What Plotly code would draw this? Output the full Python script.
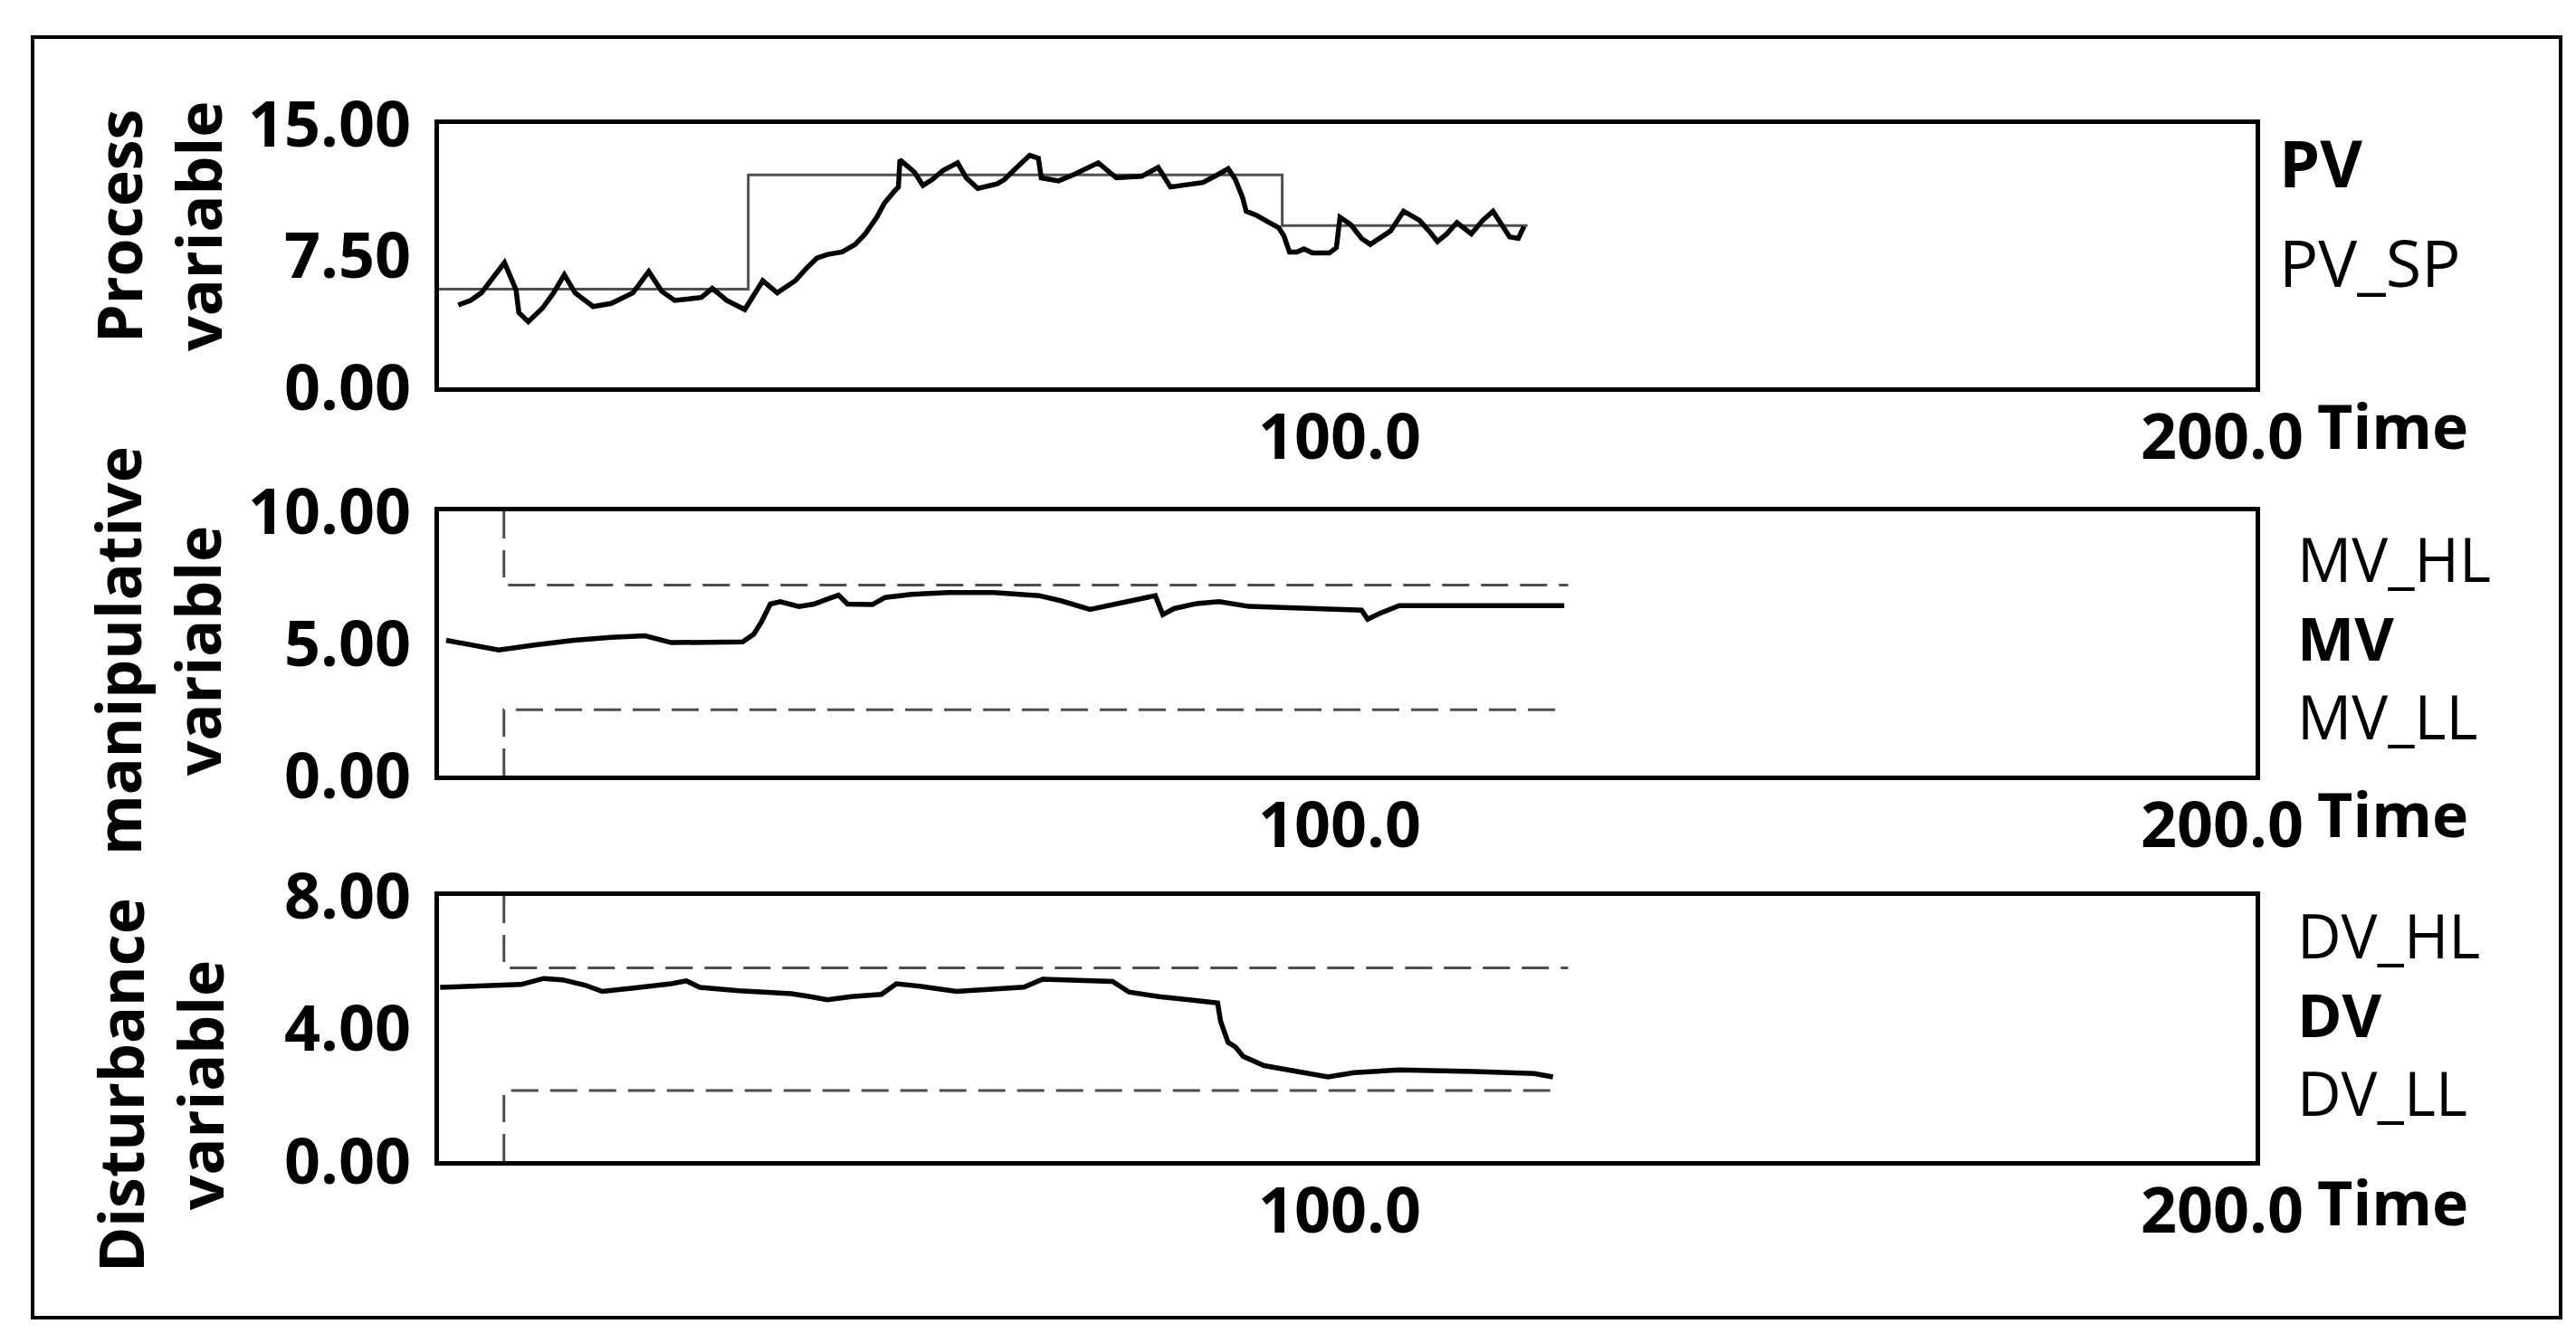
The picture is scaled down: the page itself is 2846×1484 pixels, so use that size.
import plotly.graph_objects as go

# ---------------- data ----------------
pv_t = [0.14, 1.52, 2.75, 3.98, 5.37, 6.68, 7.00, 8.07, 9.70, 10.93, 12.15, 13.38, 15.42, 17.47,
        19.92, 21.72, 23.19, 24.66, 27.69, 28.92, 30.55, 32.60, 33.99, 34.64, 36.28, 38.32, 39.55,
        40.77, 42.00, 43.63, 45.11, 46.25, 47.56, 48.38, 49.52, 50.01, 50.18, 51.81, 52.79, 53.85,
        55.08, 56.72, 57.70, 59.00, 61.21, 62.03, 63.26, 64.89, 65.87, 66.20, 68.16, 69.80, 72.66,
        74.71, 77.57, 79.45, 80.84, 84.51, 86.15, 87.38, 88.19, 89.01, 89.42, 90.65, 91.88, 93.10,
        93.67, 94.33, 95.15, 95.96, 96.94, 98.83, 99.64, 100.05, 101.28, 102.50, 103.48, 105.78,
        107.25, 109.05, 110.27, 111.09, 112.15, 113.30, 114.93, 116.24, 117.39, 118.45, 119.27,
        120.25, 120.90]
pv_v = [4.69, 4.95, 5.38, 6.15, 7.10, 5.55, 4.26, 3.74, 4.52, 5.38, 6.41, 5.38, 4.60, 4.78,
        5.38, 6.59, 5.47, 4.95, 5.12, 5.64, 4.95, 4.43, 5.55, 6.07, 5.38, 6.07, 6.76,
        7.36, 7.57, 7.71, 8.14, 8.74, 9.69, 10.46, 11.15, 11.41, 12.96, 12.27, 11.50, 11.84,
        12.36, 12.79, 11.93, 11.33, 11.59, 11.84, 12.45, 13.22, 13.05, 11.93, 11.76, 12.10, 12.79,
        11.93, 12.02, 12.53, 11.41, 11.67, 12.10, 12.45, 11.84, 10.81, 10.03, 9.78, 9.43, 9.09,
        8.65, 7.71, 7.71, 7.88, 7.65, 7.65, 7.96, 9.69, 9.26, 8.48, 8.14, 8.91,
        10.03, 9.52, 8.83, 8.31, 8.74, 9.38, 8.74, 9.52, 10.03, 9.26, 8.57,
        8.48, 9.17]

pv_sp_t = [-2.05, 33.0, 33.0, 93.5, 93.5, 121.3]
pv_sp_v = [5.59, 5.59, 12.10, 12.10, 9.21, 9.21]

mv_t = [-1.24, 1.31, 4.71, 8.96, 13.22, 17.47, 21.30, 24.27, 28.52, 32.35, 33.62, 34.48, 35.50,
        36.60, 38.73, 40.43, 42.13, 43.23, 44.25, 47.06, 48.51, 51.48, 55.73, 60.84, 65.94, 68.49,
        71.72, 75.29, 79.12, 79.97, 81.24, 83.80, 86.35, 89.74, 94.85, 100.80, 102.50, 103.18,
        104.63, 106.75, 125.46]
mv_v = [5.12, 4.95, 4.75, 4.95, 5.12, 5.23, 5.29, 5.03, 5.03, 5.06, 5.35, 5.81, 6.49,
        6.58, 6.40, 6.49, 6.70, 6.83, 6.49, 6.47, 6.74, 6.86, 6.93, 6.93, 6.81, 6.61,
        6.29, 6.55, 6.81, 6.09, 6.32, 6.51, 6.58, 6.40, 6.35, 6.32, 6.26, 5.92,
        6.15, 6.43, 6.43]

mv_hl_t = [5.31, 5.31, 125.9]
mv_hl_v = [10.0, 7.21, 7.21]
mv_ll_t = [5.31, 5.31, 124.6]
mv_ll_v = [0.0, 2.49, 2.49]

dv_t = [-1.92, 3.01, 7.26, 9.81, 11.94, 14.49, 16.45, 20.02, 24.27, 25.97, 27.50, 31.92, 37.88,
        40.00, 41.96, 44.68, 48.08, 49.78, 52.33, 56.58, 60.84, 64.24, 66.36, 69.34, 74.27, 76.14,
        79.54, 82.94, 86.18, 86.52, 87.37, 88.22, 89.07, 91.45, 95.70, 98.68, 101.65, 106.75,
        115.25, 122.06, 124.18]
dv_v = [5.24, 5.28, 5.33, 5.51, 5.47, 5.31, 5.12, 5.22, 5.35, 5.44, 5.24, 5.14, 5.05,
        4.96, 4.87, 4.96, 5.03, 5.35, 5.28, 5.12, 5.19, 5.25, 5.49, 5.47, 5.42, 5.10,
        4.96, 4.87, 4.77, 4.22, 3.58, 3.44, 3.16, 2.88, 2.67, 2.54, 2.67, 2.75,
        2.70, 2.64, 2.54]

dv_hl_t = [5.31, 5.31, 125.9]
dv_hl_v = [8.0, 5.83, 5.83]
dv_ll_t = [5.31, 5.31, 124.6]
dv_ll_v = [0.0, 2.13, 2.13]

x_range = [-2.05, 203.8]
x_ticks = [100, 200]
x_ticktext = ["100.0", "200.0"]

y_ranges = [[0, 15], [0, 10], [0, 8]]
y_ticks = [[0, 7.5, 15], [0, 5, 10], [0, 4, 8]]
y_ticktext = [["0.00", "7.50", "15.00"], ["0.00", "5.00", "10.00"], ["0.00", "4.00", "8.00"]]

axis_titles = ["Process<br>variable", "manipulative<br>variable", "Disturbance<br>variable"]
x_title = "Time"
pv_labels = [("PV", True), ("PV_SP", False)]
mv_labels = [("MV_HL", False), ("MV", True), ("MV_LL", False)]
dv_labels = [("DV_HL", False), ("DV", True), ("DV_LL", False)]

# ---------------- layout geometry ----------------
W, H = 2846, 1484
FONT = "Open Sans"
x_dom = [477 / W, 2484 / W]
panels_px = [(129, 420), (557, 849), (982, 1275)]
y_doms = [[1 - b / H, 1 - t / H] for (t, b) in panels_px]

fig = go.Figure()

main_line = dict(color="black", width=5.5)
sp_line = dict(color="#505050", width=3)
lim_line = dict(color="#4d4d4d", width=3, dash="30px,13px")

# panel 1
fig.add_trace(go.Scatter(x=pv_sp_t, y=pv_sp_v, mode="lines", line=sp_line, xaxis="x", yaxis="y"))
fig.add_trace(go.Scatter(x=pv_t, y=pv_v, mode="lines", line=main_line, xaxis="x", yaxis="y"))
# panel 2
fig.add_trace(go.Scatter(x=mv_hl_t, y=mv_hl_v, mode="lines", line=lim_line, xaxis="x2", yaxis="y2"))
fig.add_trace(go.Scatter(x=mv_ll_t, y=mv_ll_v, mode="lines", line=lim_line, xaxis="x2", yaxis="y2"))
fig.add_trace(go.Scatter(x=mv_t, y=mv_v, mode="lines", line=main_line, xaxis="x2", yaxis="y2"))
# panel 3
fig.add_trace(go.Scatter(x=dv_hl_t, y=dv_hl_v, mode="lines", line=lim_line, xaxis="x3", yaxis="y3"))
fig.add_trace(go.Scatter(x=dv_ll_t, y=dv_ll_v, mode="lines", line=lim_line, xaxis="x3", yaxis="y3"))
fig.add_trace(go.Scatter(x=dv_t, y=dv_v, mode="lines", line=main_line, xaxis="x3", yaxis="y3"))

tick_font = dict(family=FONT, size=70, color="black", weight="bold")
layout = dict(
    width=W, height=H, autosize=False,
    margin=dict(l=0, r=0, t=0, b=0, pad=0),
    paper_bgcolor="white", plot_bgcolor="white",
    showlegend=False,
    font=dict(family=FONT, color="black"),
)
for i in range(3):
    sx = "" if i == 0 else str(i + 1)
    layout["xaxis" + sx] = dict(
        domain=x_dom, anchor="y" + sx, range=x_range, automargin=False,
        tickmode="array", tickvals=x_ticks, ticktext=x_ticktext,
        tickfont=tick_font, ticks="", showgrid=False, zeroline=False,
        showline=True, mirror=True, linewidth=5, linecolor="black",
        ticklabelstandoff=-10,
    )
    layout["yaxis" + sx] = dict(
        domain=y_doms[i], anchor="x" + sx, range=y_ranges[i], automargin=False,
        tickmode="array", tickvals=y_ticks[i], ticktext=y_ticktext[i],
        tickfont=tick_font, ticks="", showgrid=False, zeroline=False,
        showline=True, mirror=True, linewidth=5, linecolor="black",
        ticklabelstandoff=12,
    )

annotations = []
title_pos = [(166, 242), (165, 711), (168, 1191)]
for i, txt in enumerate(axis_titles):
    cx, cy = title_pos[i]
    annotations.append(dict(
        text=txt, xref="paper", yref="paper", x=cx / W, y=1 - cy / H,
        xanchor="center", yanchor="middle", textangle=-90, showarrow=False,
        font=dict(family=FONT, size=68, color="black", weight="bold")))

time_y = [461, 890, 1319]
for ty in time_y:
    annotations.append(dict(
        text=x_title, xref="paper", yref="paper", x=2550 / W, y=1 - ty / H,
        xanchor="left", yanchor="middle", showarrow=False,
        font=dict(family=FONT, size=68, color="black", weight="bold")))


def fmt(label):
    txt, bold = label
    return "<b>%s</b>" % txt if bold else txt


# PV panel labels (widely spaced, separate texts)
for label, ly in zip(pv_labels, [171, 281]):
    annotations.append(dict(
        text=fmt(label), xref="paper", yref="paper", x=2508 / W, y=1 - ly / H,
        xanchor="left", yanchor="middle", showarrow=False,
        font=dict(family=FONT, size=72, color="black")))

# MV / DV labels as stacked blocks
for labs, cy in [(mv_labels, 696), (dv_labels, 1112)]:
    annotations.append(dict(
        text="<br>".join(fmt(l) for l in labs), xref="paper", yref="paper",
        x=2528 / W, y=1 - cy / H, xanchor="left", yanchor="middle", align="left",
        showarrow=False, font=dict(family=FONT, size=67, color="black")))
layout["annotations"] = annotations

layout["shapes"] = [dict(type="rect", xref="paper", yref="paper",
                         x0=28 / W, x1=2821 / W, y0=1 - 1448 / H, y1=1 - 33 / H,
                         line=dict(color="black", width=4), fillcolor="rgba(0,0,0,0)")]

fig.update_layout(**layout)
fig.write_html("out.html")
